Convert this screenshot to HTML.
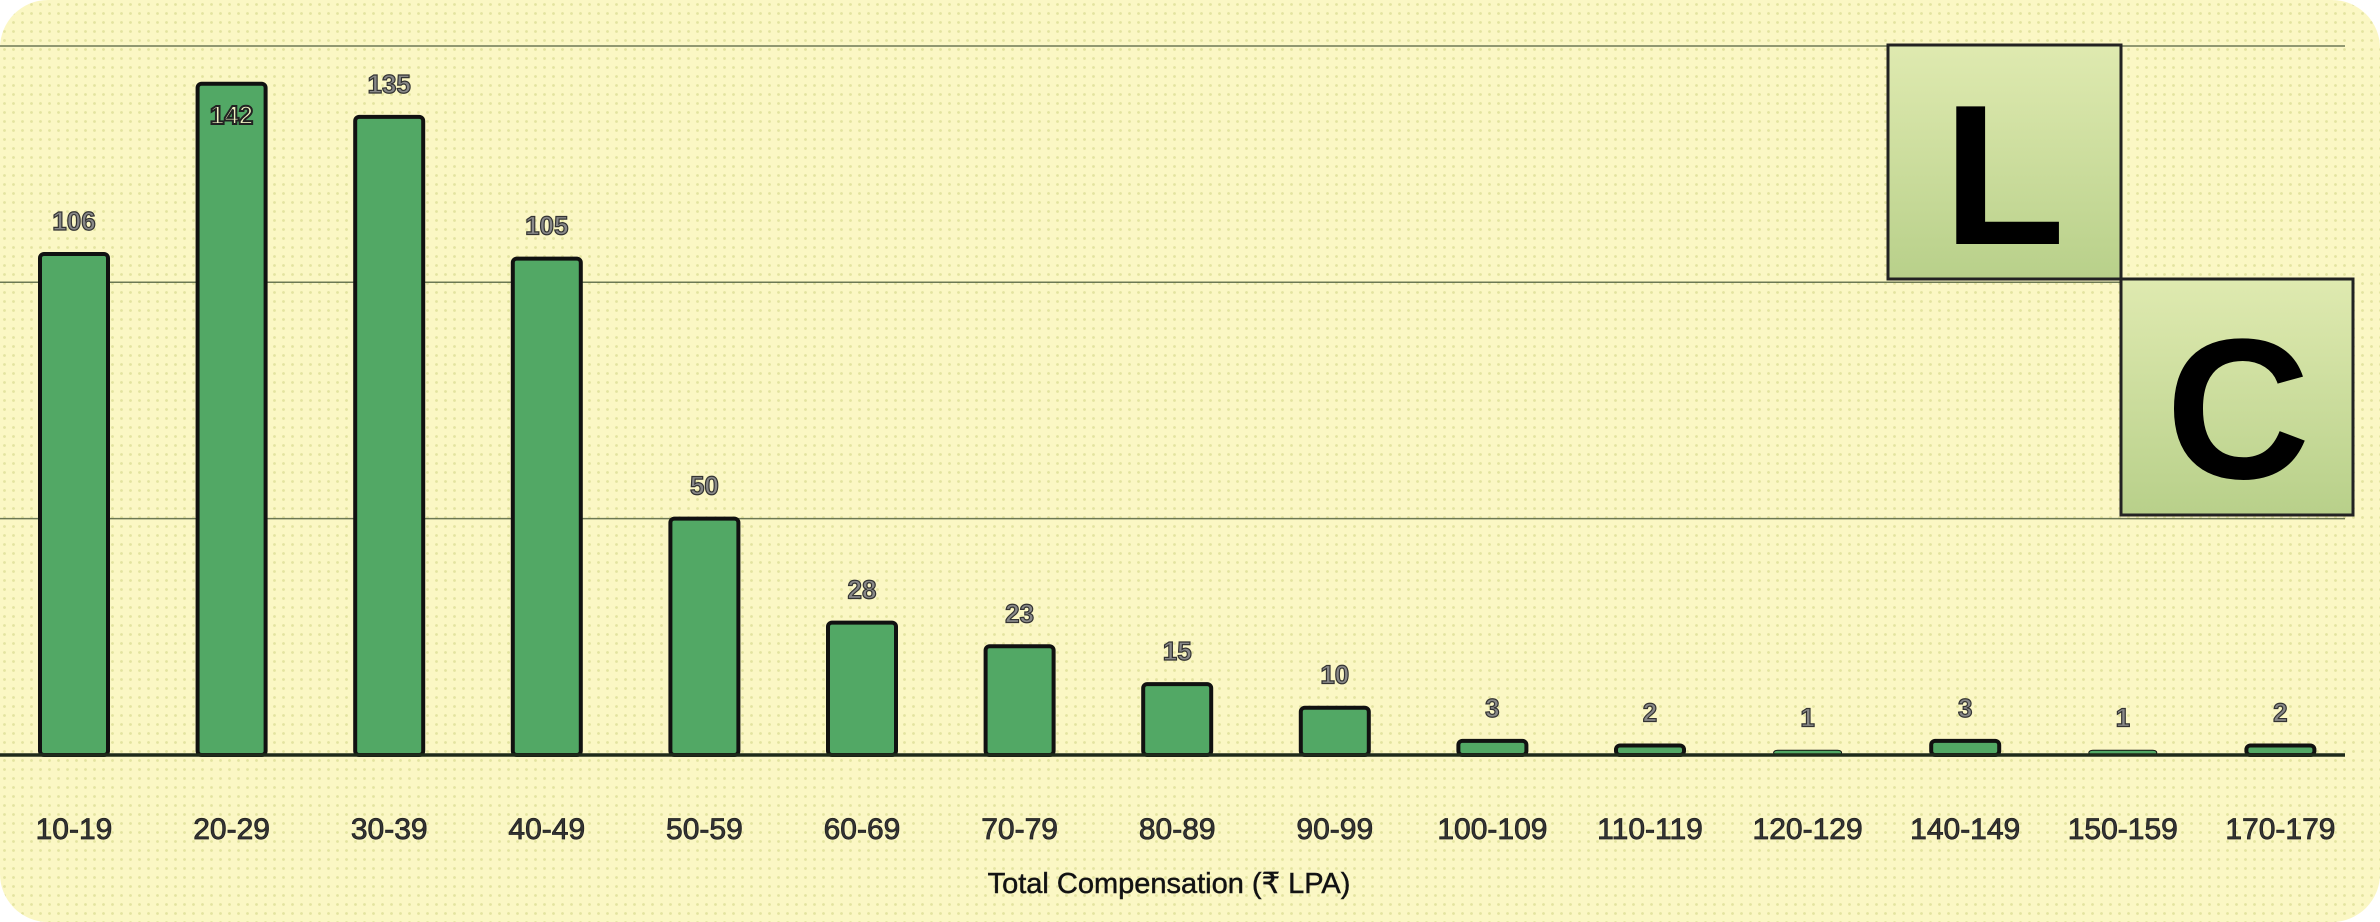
<!DOCTYPE html>
<html><head><meta charset="utf-8"><style>
html,body{margin:0;padding:0;background:#fff;}
svg{display:block;}
text{font-family:"Liberation Sans",Arial,sans-serif;}
</style></head><body>
<svg id="chart" width="2380" height="922" viewBox="0 0 2380 922" xmlns="http://www.w3.org/2000/svg">
<defs>
<pattern id="dots" width="9" height="9" patternUnits="userSpaceOnUse">
<rect width="9" height="9" fill="#fbf7c4"/>
<circle cx="4.5" cy="4.5" r="1.4" fill="#e3e3a0"/>
</pattern>
<linearGradient id="logoG" x1="0" y1="0" x2="0" y2="1">
<stop offset="0" stop-color="#dfeab0"/><stop offset="1" stop-color="#b8d08a"/>
</linearGradient>
</defs>
<rect x="0" y="0" width="2380" height="922" rx="48" fill="url(#dots)"/>
<g id="grid"></g>
<g id="logo">
<rect x="1888" y="45" width="233" height="234" fill="url(#logoG)" stroke="#222" stroke-width="3"/>
<text x="2004" y="244" font-size="200" font-weight="bold" text-anchor="middle" fill="#000">L</text>
<rect x="2121" y="279" width="232" height="236" fill="url(#logoG)" stroke="#222" stroke-width="3"/>
<text x="2238" y="478" font-size="200" font-weight="bold" text-anchor="middle" fill="#000">C</text>
</g>
<g id="bars"></g>
<line x1="0" y1="755" x2="2345" y2="755" stroke="#1e2a1a" stroke-width="3.5"/>
<g id="xlabels"></g>
<text x="1169" y="893" font-size="29" text-anchor="middle" fill="#111" stroke="#222" stroke-width="0.5">Total Compensation (₹ LPA)</text>
</svg>
<script>
const categories = ["10-19","20-29","30-39","40-49","50-59","60-69","70-79","80-89","90-99","100-109","110-119","120-129","140-149","150-159","170-179"];
const counts = [106,142,135,105,50,28,23,15,10,3,2,1,3,1,2];
const gridValues = [50,100,150];

const NS = "http://www.w3.org/2000/svg";
const baseY = 755, pxPerUnit = 4.727;
const firstX = 74, step = 157.6, barW = 68;
function xScale(i){ return firstX + i*step; }
function yScale(v){ return baseY - v*pxPerUnit; }
function mk(tag, attrs){ const e=document.createElementNS(NS,tag); for(const k in attrs) e.setAttribute(k,attrs[k]); return e; }

const grid = document.getElementById('grid');
gridValues.forEach(v=>{
  const l = mk('line',{x1:0,x2:2345,y1:yScale(v),y2:yScale(v),stroke:'#4a5a3a','stroke-width':1.5,opacity:0.8});
  
  
  grid.appendChild(l);
});

const bars = document.getElementById('bars');
const xl = document.getElementById('xlabels');
categories.forEach((c,i)=>{
  const v = counts[i];
  const cx = xScale(i);
  const top = yScale(v);
  const h = Math.max(baseY - top, 2);
  const r = mk('rect',{x:cx-barW/2,y:baseY-h,width:barW,height:h,rx:4,fill:'#52a865',stroke:'#111','stroke-width':v<=1?1:4});
  
  
  bars.appendChild(r);
  const inside = (baseY-h) < 110;
  const t = mk('text',{x:cx,y:inside?(baseY-h+40):(baseY-h-24),'font-size':26,'font-weight':'bold','text-anchor':'middle',fill:inside?'#eef0c0':'#888',stroke:inside?'#222':'#333','stroke-width':inside?2:1.2});
  t.textContent = v;
  
  
  bars.appendChild(t);
  const lb = mk('text',{x:cx,y:839,'font-size':30,'text-anchor':'middle',fill:'#333',stroke:'#222','stroke-width':0.8});
  lb.textContent = c;
  
  
  xl.appendChild(lb);
});
</script>
</body></html>
